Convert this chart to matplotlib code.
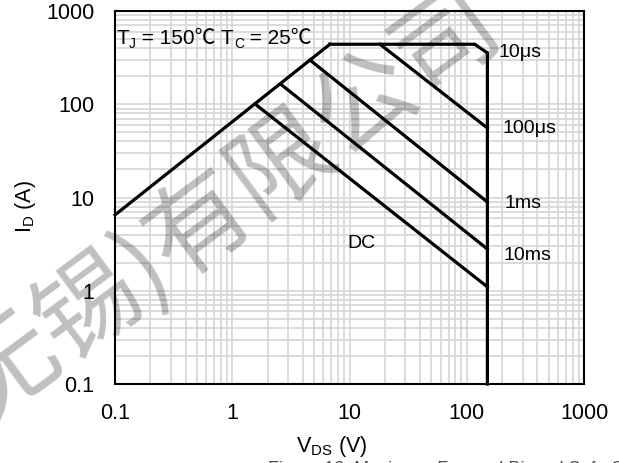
import matplotlib
matplotlib.use('Agg')
import matplotlib.pyplot as plt
from matplotlib.ticker import LogLocator, NullFormatter, FixedLocator, FixedFormatter

plt.rcParams['font.family'] = ['Liberation Sans', 'DejaVu Sans']
plt.rcParams['mathtext.fontset'] = 'custom'
plt.rcParams['mathtext.rm'] = 'Liberation Sans'
plt.rcParams['mathtext.it'] = 'Liberation Sans'
plt.rcParams['mathtext.bf'] = 'Liberation Sans:bold'

# ---- data ----
tick_values = [0.1, 1, 10, 100, 1000]
tick_labels = ['0.1', '1', '10', '100', '1000']

rds_v = [0.1, 6.8]
rds_i = [6.5, 440]

us10_v = [6.8, 117, 150, 150]
us10_i = [440, 440, 355, 0.1]

us100_v = [18.2, 150]
us100_i = [440, 55.6]

ms1_v = [4.6, 150]
ms1_i = [298, 8.95]

ms10_v = [2.64, 150]
ms10_i = [161, 2.8]

dc_v = [1.56, 150]
dc_i = [101, 1.1]

curve_labels = ['10μs', '100μs', '1ms', '10ms', 'DC']
label_v = [185, 200, 208, 204, 9.5]
label_i = [321, 49.2, 7.72, 2.14, 2.87]

cond_parts = ['T', 'J', ' = 150℃ T', 'C', ' = 25℃']
cond_is_sub = [False, True, False, True, False]

# ---- figure ----
W, H = 619, 463
fig = plt.figure(figsize=(W / 100, H / 100), dpi=100)
ax = fig.add_axes([115 / W, 1 - 384 / H, (584 - 115) / W, (384 - 11) / H])
ax.set_xscale('log')
ax.set_yscale('log')
ax.set_xlim(0.1, 1000)
ax.set_ylim(0.1, 1000)

for axis in (ax.xaxis, ax.yaxis):
    axis.set_major_locator(FixedLocator(tick_values))
    axis.set_major_formatter(FixedFormatter(tick_labels))
    axis.set_minor_locator(LogLocator(base=10, subs=range(2, 10), numticks=30))
    axis.set_minor_formatter(NullFormatter())

ax.set_axisbelow(True)
ax.grid(which='both', color='#d6d6d6', lw=1.2)
ax.tick_params(which='both', length=0, labelsize=15.5)
ax.tick_params(axis='x', pad=14)
ax.tick_params(axis='y', pad=15)
for s in ax.spines.values():
    s.set_linewidth(1.5)
    s.set_color('black')

lw = 2.3
for v, i in [(rds_v, rds_i), (us10_v, us10_i), (us100_v, us100_i),
             (ms1_v, ms1_i), (ms10_v, ms10_i), (dc_v, dc_i)]:
    ax.plot(v, i, color='black', lw=lw, zorder=3, clip_on=False,
            solid_joinstyle='miter')

for t, x, y in zip(curve_labels, label_v, label_i):
    ax.text(x, y, t, fontsize=14, va='baseline', ha='left', zorder=4)

# condition text, built piece by piece so that ℃ can fall back to a CJK font
cond_family = ['Liberation Sans', 'Noto Sans CJK SC']
main_fs, sub_fs = 15, 10
first = ax.text(0.102, 401, cond_parts[0], fontsize=main_fs, va='bottom',
                ha='left', zorder=4, family=cond_family)
prev = first
for part, sub in zip(cond_parts[1:], cond_is_sub[1:]):
    if sub:
        prev = ax.annotate(part, xy=(1, 0), xycoords=(prev, first),
                           xytext=(0.3, -2.5), textcoords='offset points',
                           fontsize=sub_fs, va='bottom', ha='left', zorder=4,
                           family=cond_family)
    else:
        prev = ax.annotate(part, xy=(1, 0), xycoords=(prev, first),
                           fontsize=main_fs, va='bottom', ha='left', zorder=4,
                           family=cond_family)

# axis labels
fig.text(332 / W, 1 - 452 / H, r'$\mathregular{V_{DS}}$ (V)', fontsize=15.5,
         ha='center', va='baseline')
fig.text(26 / W, 1 - 207 / H, r'$\mathregular{I_D}$ (A)', fontsize=15.5,
         ha='center', va='center', rotation=90)

# watermark (semi-transparent, so that labels and lines show through)
ax.text(228 / W, 1 - 205 / H, '无锡)有限公司', transform=fig.transFigure,
        fontsize=74, family=['Noto Sans CJK SC'], rotation=36.5,
        rotation_mode='anchor', ha='center', va='center', color='black',
        alpha=0.25, zorder=5, clip_on=False)

# caption (cut off at the bottom edge)
fig.text(268 / W, 1 - 460.5 / H, 'Figure 12. Maximum Forward Biased Safe Operating Area',
         fontsize=13, ha='left', va='top', color='#505050')

fig.savefig('out.png', dpi=100)
